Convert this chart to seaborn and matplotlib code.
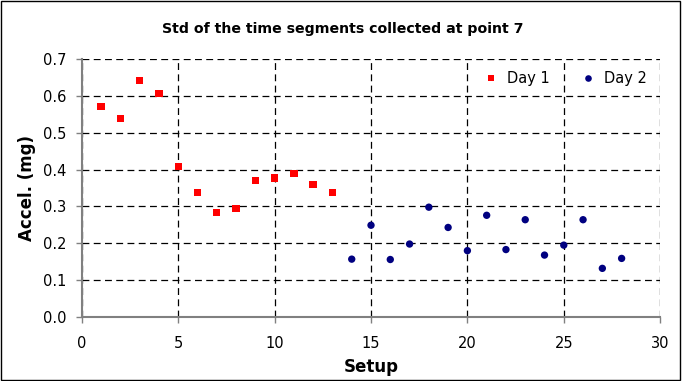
import matplotlib
matplotlib.use("Agg")
import matplotlib.pyplot as plt
import seaborn as sns
import pandas as pd

day1_setup = list(range(1, 14))
day1_std = [0.572, 0.538, 0.641, 0.607, 0.409, 0.338, 0.283, 0.295, 0.370, 0.377, 0.389, 0.359, 0.338]
day2_setup = list(range(14, 29))
day2_std = [0.157, 0.249, 0.156, 0.198, 0.298, 0.243, 0.180, 0.276, 0.183, 0.264, 0.168, 0.195, 0.264, 0.132, 0.159]

df = pd.DataFrame({
    "Setup": day1_setup + day2_setup,
    "Accel": day1_std + day2_std,
    "Day": ["Day 1"] * len(day1_setup) + ["Day 2"] * len(day2_setup),
})

sns.set_style("white")
plt.rcParams["font.family"] = ["DejaVu Sans"]
plt.rcParams["text.color"] = "black"
plt.rcParams["axes.labelcolor"] = "black"
plt.rcParams["xtick.color"] = "black"
plt.rcParams["ytick.color"] = "black"

fig = plt.figure(figsize=(6.82, 3.81), dpi=100)
ax = fig.add_axes([0.120, 0.168, 0.848, 0.677])

sns.scatterplot(data=df, x="Setup", y="Accel", hue="Day", style="Day",
                palette={"Day 1": "#ff0000", "Day 2": "#000080"},
                markers={"Day 1": "s", "Day 2": "o"},
                s=28, linewidth=0, ax=ax)

ax.set_xlim(0, 30)
ax.set_ylim(0, 0.7)
ax.set_xticks(range(0, 31, 5))
ax.set_yticks([i / 10 for i in range(8)])
ax.set_yticklabels([f"{i/10:.1f}" for i in range(8)])
ax.grid(True, color="black", linestyle=(0, (5.5, 3.5)), linewidth=0.9)
ax.set_axisbelow(True)
for s in ["top", "right"]:
    ax.spines[s].set_visible(False)
for s in ["left", "bottom"]:
    ax.spines[s].set_color("#808080")
    ax.spines[s].set_linewidth(1.5)
ax.tick_params(axis="both", direction="out", length=4, width=1, color="#808080",
               labelcolor="black", labelsize=10.5, left=True, bottom=True)
ax.tick_params(axis="y", pad=7)
ax.tick_params(axis="x", pad=10)

fig.text(0.503, 0.924, "Std of the time segments collected at point 7", fontsize=10.2,
         fontweight="bold", ha="center", va="center", color="black")
ax.set_xlabel("Setup", fontsize=12, fontweight="bold", labelpad=5, color="black")
ax.set_ylabel("Accel. (mg)", fontsize=12, fontweight="bold", labelpad=5, color="black")

leg = ax.legend(loc="upper right", ncol=2, frameon=False, fontsize=10.5,
                handletextpad=0.1, columnspacing=1.6, markerscale=0.9,
                bbox_to_anchor=(1.0, 1.005))
for t in leg.get_texts():
    t.set_color("black")

fig.patches.append(plt.Rectangle((0.002, 0.003), 0.995, 0.994, transform=fig.transFigure,
                                 fill=False, edgecolor="black", linewidth=1))

fig.savefig("out.png", dpi=100)
